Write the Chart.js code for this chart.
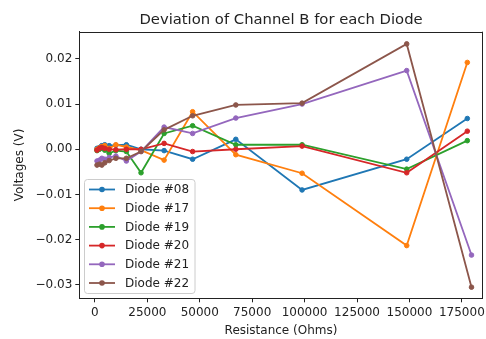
<!DOCTYPE html>
<html>
<head>
<meta charset="utf-8">
<script src="https://cdn.jsdelivr.net/npm/chart.js@4/dist/chart.umd.min.js"></script>
<style>
html,body{margin:0;padding:0;background:#fff;}
#wrap{width:486px;height:339px;position:relative;}
</style>
</head>
<body>
<div id="wrap"><canvas id="c" width="486" height="339"></canvas></div>
<script>
// ---- data ----
const chartTitle = 'Deviation of Channel B for each Diode';
const diodeLabels = ['Diode #08', 'Diode #17', 'Diode #19', 'Diode #20', 'Diode #21', 'Diode #22'];
const diodeColors = ['#1f77b4', '#ff7f0e', '#2ca02c', '#d62728', '#9467bd', '#8c564b'];
const resistance = [1000, 2200, 3300, 4700, 6800, 10000, 15000, 22000, 33000, 46600, 67200, 98800, 148700];
const lastResistance = [177600, 177600, 177600, 177600, 179600, 179600];
const diode08 = [0.0002, 0.0004, 0.0008, 0.0010, 0.0008, 0.0009, 0.0010, 0.0000, -0.0003, -0.0022, 0.0022, -0.0090, -0.0022, 0.0068];
const diode17 = [0.0000, 0.0003, 0.0006, 0.0008, 0.0002, 0.0010, 0.0005, -0.0002, -0.0024, 0.0083, -0.0012, -0.0053, -0.0213, 0.0192];
const diode19 = [-0.0003, 0.0000, 0.0003, -0.0002, -0.0009, -0.0003, -0.0005, -0.0052, 0.0035, 0.0052, 0.0010, 0.0010, -0.0044, 0.0019];
const diode20 = [-0.0002, 0.0002, 0.0004, 0.0002, 0.0000, -0.0001, 0.0000, 0.0000, 0.0013, -0.0005, 0.0000, 0.0007, -0.0052, 0.0040];
const diode21 = [-0.0026, -0.0024, -0.0020, -0.0022, -0.0018, -0.0015, -0.0026, -0.0005, 0.0049, 0.0035, 0.0069, 0.0100, 0.0174, -0.0234];
const diode22 = [-0.0035, -0.0033, -0.0035, -0.0030, -0.0025, -0.0020, -0.0020, -0.0005, 0.0043, 0.0074, 0.0098, 0.0102, 0.0233, -0.0305];
const xTicks = [0, 25000, 50000, 75000, 100000, 125000, 150000, 175000];
const yTicks = [-0.03, -0.02, -0.01, 0.00, 0.01, 0.02];

const series = [diode08, diode17, diode19, diode20, diode21, diode22];
const FONT = "'DejaVu Sans', sans-serif";

const datasets = series.map((vals, i) => ({
  label: diodeLabels[i],
  data: vals.map((v, j) => ({ x: j < resistance.length ? resistance[j] : lastResistance[i], y: v })),
  borderColor: diodeColors[i],
  backgroundColor: diodeColors[i],
  borderWidth: 1.8,
  pointRadius: 2.3,
  pointBorderWidth: 1,
  pointHoverRadius: 2.3,
  showLine: true,
  tension: 0,
  order: series.length - 1 - i
}));

const framePlugin = {
  id: 'frame',
  afterDatasetsDraw(chart) {
    const { ctx, chartArea: a } = chart;
    ctx.save();
    ctx.strokeStyle = '#222';
    ctx.lineWidth = 1;
    ctx.beginPath();
    ctx.moveTo(a.left, Math.round(a.top) + 0.5);
    ctx.lineTo(a.right, Math.round(a.top) + 0.5);
    ctx.moveTo(Math.round(a.right) - 0.5, a.top);
    ctx.lineTo(Math.round(a.right) - 0.5, a.bottom);
    ctx.stroke();
    // axes title, centred over the plotting area as matplotlib does
    ctx.fillStyle = '#222';
    ctx.font = '14.8px ' + FONT;
    ctx.textAlign = 'center';
    ctx.textBaseline = 'middle';
    ctx.fillText(chartTitle, (a.left + a.right) / 2, 20);
    ctx.restore();
  }
};

const legendPlugin = {
  id: 'mplLegend',
  afterDraw(chart) {
    const ctx = chart.ctx;
    const x0 = 84.5, y0 = 179.5, w = 110.5, h = 114, r = 3;
    ctx.save();
    ctx.fillStyle = 'rgba(255,255,255,0.8)';
    ctx.strokeStyle = '#cccccc';
    ctx.lineWidth = 1;
    ctx.beginPath();
    ctx.moveTo(x0 + r, y0);
    ctx.lineTo(x0 + w - r, y0);
    ctx.quadraticCurveTo(x0 + w, y0, x0 + w, y0 + r);
    ctx.lineTo(x0 + w, y0 + h - r);
    ctx.quadraticCurveTo(x0 + w, y0 + h, x0 + w - r, y0 + h);
    ctx.lineTo(x0 + r, y0 + h);
    ctx.quadraticCurveTo(x0, y0 + h, x0, y0 + h - r);
    ctx.lineTo(x0, y0 + r);
    ctx.quadraticCurveTo(x0, y0, x0 + r, y0);
    ctx.closePath();
    ctx.fill();
    ctx.stroke();
    ctx.font = '12px ' + FONT;
    ctx.textBaseline = 'middle';
    ctx.textAlign = 'left';
    chart.data.datasets.forEach((ds, i) => {
      const y = 189.5 + i * 18.7;
      ctx.strokeStyle = ds.borderColor;
      ctx.lineWidth = 1.8;
      ctx.beginPath();
      ctx.moveTo(89, y);
      ctx.lineTo(115, y);
      ctx.stroke();
      ctx.fillStyle = ds.borderColor;
      ctx.beginPath();
      ctx.arc(102, y, 2.8, 0, Math.PI * 2);
      ctx.fill();
      ctx.fillStyle = '#222';
      ctx.fillText(ds.label, 125, y + 0.5);
    });
    ctx.restore();
  }
};

new Chart(document.getElementById('c'), {
  type: 'scatter',
  data: { datasets },
  plugins: [framePlugin, legendPlugin],
  options: {
    responsive: false,
    animation: false,
    devicePixelRatio: 1,
    layout: { padding: { left: 0, right: 1, top: 31.7, bottom: 0 } },
    plugins: {
      legend: { display: false },
      tooltip: { enabled: false },
      title: { display: false }
    },
    scales: {
      x: {
        type: 'linear',
        min: -7445,
        max: 184940,
        afterBuildTicks(scale) { scale.ticks = xTicks.map(v => ({ value: v })); },
        afterFit(scale) { scale.height = 40.7; scale.paddingLeft = 0; scale.paddingRight = 0; },
        grid: { display: true, drawOnChartArea: false, drawTicks: true, tickLength: 4, color: '#222' },
        border: { display: true, color: '#222', width: 1 },
        ticks: {
          color: '#222', padding: 3, maxRotation: 0, autoSkip: false,
          font: { family: FONT, size: 12 },
          callback: v => String(v)
        },
        title: {
          display: true, text: 'Resistance (Ohms)', color: '#222',
          font: { family: FONT, size: 12 }, padding: { top: 0, bottom: 1 }
        }
      },
      y: {
        type: 'linear',
        min: -0.03296,
        max: 0.0260,
        afterBuildTicks(scale) { scale.ticks = yTicks.map(v => ({ value: v })); },
        afterFit(scale) { scale.width = 79.3; scale.paddingTop = 0; scale.paddingBottom = 0; },
        grid: { display: true, drawOnChartArea: false, drawTicks: true, tickLength: 4, color: '#222' },
        border: { display: true, color: '#222', width: 1 },
        ticks: {
          color: '#222', padding: 3, autoSkip: false,
          font: { family: FONT, size: 12 },
          callback: v => (v < 0 ? '\u2212' : '') + Math.abs(v).toFixed(2)
        },
        title: {
          display: true, text: 'Voltages (V)', color: '#222',
          font: { family: FONT, size: 12 }, padding: { top: 13, bottom: 0 }
        }
      }
    }
  }
});
</script>
</body>
</html>
